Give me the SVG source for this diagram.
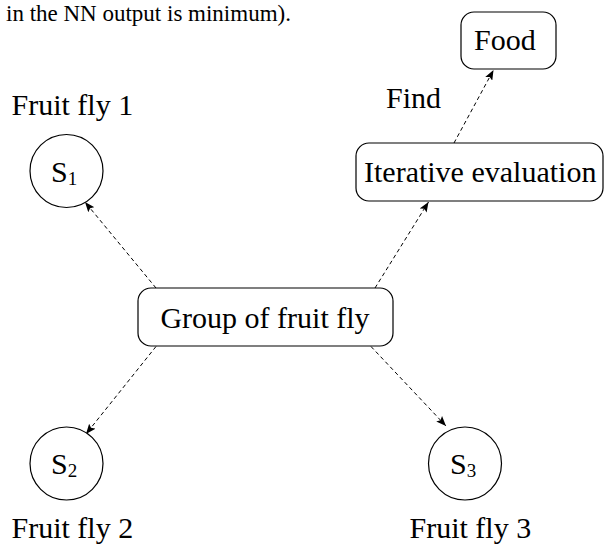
<svg xmlns="http://www.w3.org/2000/svg" width="605" height="546" viewBox="0 0 605 546">
<style>
  text { font-family: "Liberation Serif", "Times New Roman", serif; fill: #000; }
  .lbl { font-size: 30px; }
  .cap { font-size: 23px; }
  .box { fill: #fff; stroke: #000; stroke-width: 1.2; }
  .node { fill: #fff; stroke: #000; stroke-width: 1.2; }
  .edge { fill: none; stroke: #000; stroke-width: 1; stroke-dasharray: 4 3; marker-end: url(#arr); }
  .sub { font-size: 19px; }
</style>
<defs>
  <marker id="arr" markerUnits="userSpaceOnUse" markerWidth="10" markerHeight="8" refX="10" refY="4" orient="auto">
    <path d="M0,0 L10,4 L0,8 L2,4 z" fill="#000"/>
  </marker>
</defs>
<rect width="605" height="546" fill="#fff"/>
<text class="cap" x="6" y="21">in the NN output is minimum).</text>

<g id="connectors">
  <line class="edge" x1="156" y1="288" x2="85" y2="202"/>
  <line class="edge" x1="156" y1="346.5" x2="86" y2="434"/>
  <line class="edge" x1="371" y1="346.5" x2="446" y2="426"/>
  <line class="edge" x1="375" y1="288" x2="428.5" y2="202"/>
  <line class="edge" x1="454" y1="143" x2="493.5" y2="70"/>
</g>

<g id="group">
  <rect class="box" x="138" y="288" width="255" height="58" rx="13"/>
  <text class="lbl" x="265" y="328" text-anchor="middle">Group of fruit fly</text>
</g>
<g id="iterative">
  <rect class="box" x="356" y="143" width="247" height="58" rx="13"/>
  <text class="lbl" x="364" y="182">Iterative evaluation</text>
</g>
<g id="food">
  <rect class="box" x="461" y="12" width="95" height="57" rx="13"/>
  <text class="lbl" x="474" y="50">Food</text>
</g>
<g id="find">
  <text class="lbl" x="386" y="108">Find</text>
</g>
<g id="s1">
  <circle class="node" cx="66.5" cy="171" r="36.5"/>
  <text class="lbl" x="51" y="182">S<tspan class="sub" dy="3">1</tspan></text>
  <text class="lbl" x="11.5" y="115">Fruit fly 1</text>
</g>
<g id="s2">
  <circle class="node" cx="66.5" cy="463.5" r="36.5"/>
  <text class="lbl" x="51" y="474">S<tspan class="sub" dy="3">2</tspan></text>
  <text class="lbl" x="11.5" y="538">Fruit fly 2</text>
</g>
<g id="s3">
  <circle class="node" cx="465" cy="463.5" r="36.5"/>
  <text class="lbl" x="450" y="474">S<tspan class="sub" dy="3">3</tspan></text>
  <text class="lbl" x="409.5" y="538">Fruit fly 3</text>
</g>
</svg>
